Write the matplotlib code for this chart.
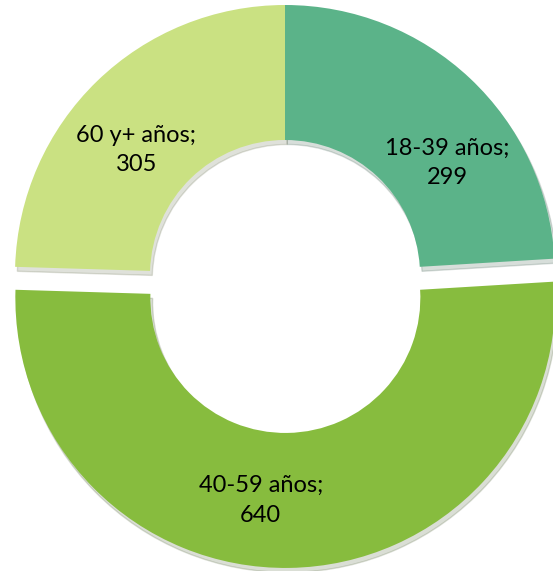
import matplotlib.pyplot as plt

# data
categories = ['18-39 años', '40-59 años', '60 y+ años']
values = [299, 640, 305]
colors = ['#5BB389', '#87BC3E', '#CAE182']
explode = [0, 0.085, 0]

# label anchor points (data units, donut centre = 0,0)
label_pos = [(0.60, 0.415), (-0.09, -0.835), (-0.55, 0.463)]

plt.rcParams['font.family'] = ['Lato', 'DejaVu Sans']

fig = plt.figure(figsize=(5.53, 5.71), dpi=100)
ax = fig.add_axes([0, 0, 1, 1])

wedges, _ = ax.pie(values, colors=colors, explode=explode, startangle=90,
                   counterclock=False, radius=1.0,
                   wedgeprops=dict(width=0.5, edgecolor='none'),
                   shadow={'ox': 0.006, 'oy': -0.012, 'shade': 0.6, 'alpha': 0.18})

for cat, val, (x, y) in zip(categories, values, label_pos):
    ax.text(x, y, f'{cat};\n{val}', ha='center', va='center',
            fontsize=17, linespacing=1.5, color='#000000')

ax.set_xlim(-285 / 270, (553 - 285) / 270)
ax.set_ylim(-(571 - 275) / 270, 275 / 270)
ax.set_aspect('equal')
ax.axis('off')

fig.savefig('out.png', dpi=100)
